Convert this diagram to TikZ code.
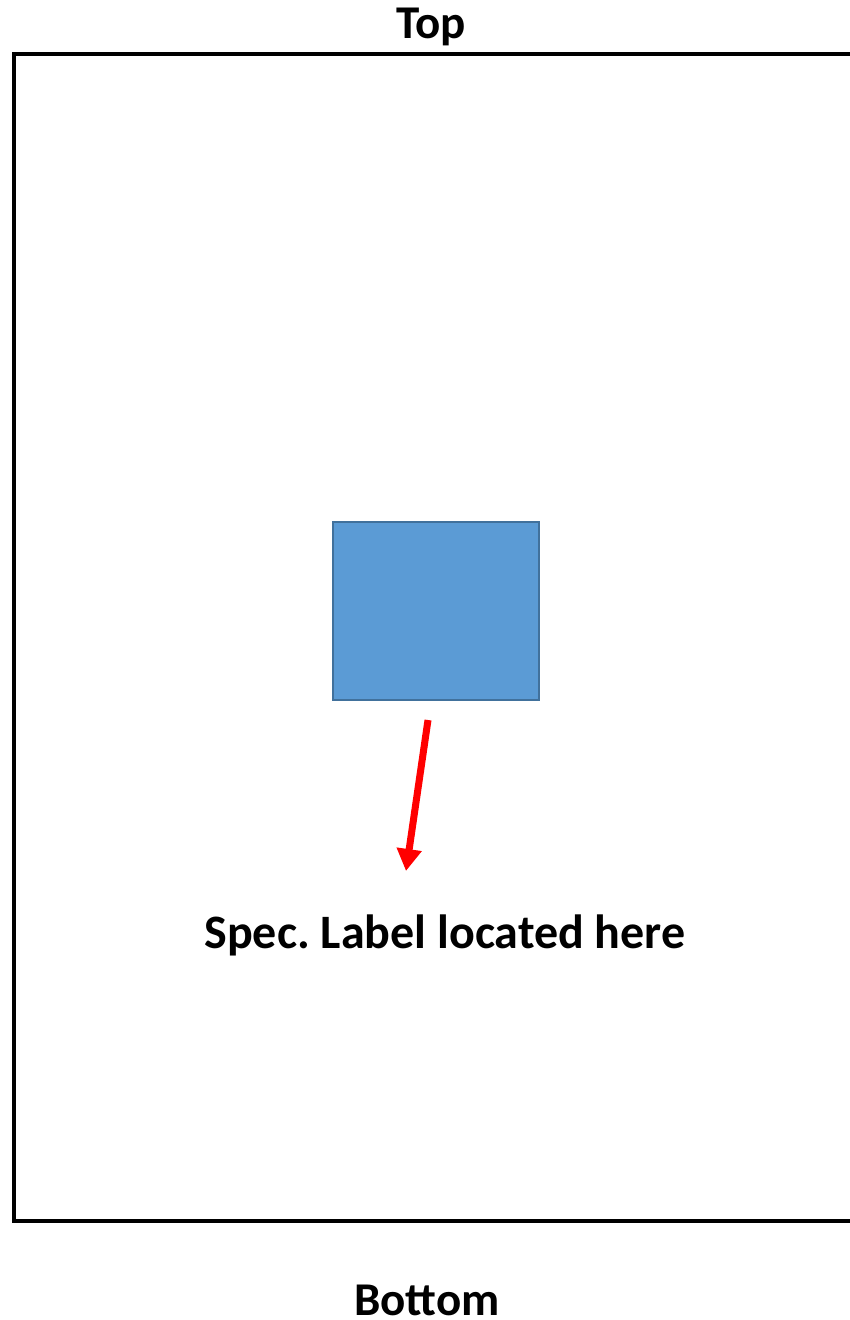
\documentclass[tikz,border=0pt]{standalone}
\usepackage{fontspec}
\setmainfont{Carlito}
\usetikzlibrary{arrows.meta}
\definecolor{boxblue}{HTML}{5B9BD5}
\definecolor{boxedge}{HTML}{41719C}
\begin{document}
\begin{tikzpicture}[x=1pt,y=-1pt,
  lbl/.style={font=\bfseries\fontsize{47}{52}\selectfont, inner sep=0pt, anchor=base, execute at begin node=\frenchspacing},
  frame/.style={line width=4pt},
  redarrow/.style={draw=red, line width=7pt, -{Triangle[width=24pt,length=22pt]}}]
\useasboundingbox (0,0) rectangle (849,1320);
\fill[white] (0,0) rectangle (849,1320);
\draw[frame] (900,54) -- (14,54) -- (14,1221) -- (900,1221);
\node[draw=boxedge, fill=boxblue, line width=2pt, minimum width=206pt, minimum height=178pt, inner sep=0pt] (box) at (436,611) {};
\coordinate (a1) at (428,720);
\coordinate (a2) at (406,871);
\draw[redarrow] (a1) -- (a2);
\node[lbl] (top) at (431,38) {Top};
\node[lbl, font=\bfseries\fontsize{48}{52}\selectfont] (spec) at (445,948) {Spec. Label located here};
\node[lbl] (bottom) at (427,1315) {Bottom};
\end{tikzpicture}
\end{document}
